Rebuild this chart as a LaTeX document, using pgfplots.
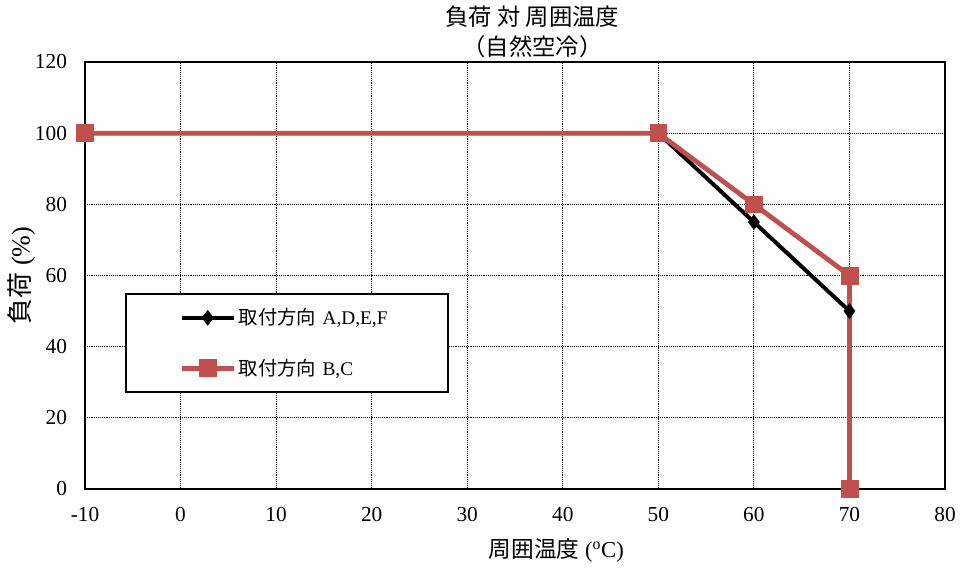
\documentclass[border=0pt]{standalone}
\usepackage{pgfplots}
\pgfplotsset{compat=1.18}
\usepackage{fontspec}
\setmainfont{Liberation Serif}
\newfontfamily\cjk{Noto Sans CJK JP}
\definecolor{exred}{HTML}{C0504D}
\begin{document}
\begin{tikzpicture}[x=1pt,y=1pt]
\path[use as bounding box] (-63.75pt,-60.75pt) rectangle (658.5pt,366.75pt);
\begin{axis}[
  at={(0,0)}, anchor=south west,
  scale only axis,
  width=645pt, height=320.25pt,
  xmin=-10, xmax=80, ymin=0, ymax=120,
  xtick={-10,0,...,80}, ytick={0,20,...,120},
  grid=major,
  grid style={black, densely dotted, line width=0.6pt},
  axis line style={black, line width=0.9pt},
  major tick length=0pt,
  ticklabel style={font=\fontsize{16}{18}\selectfont},
  /pgf/number format/assume math mode=true,
  xticklabel style={yshift=-10pt},
  yticklabel style={xshift=-10pt},
  xlabel={{\cjk 周囲温度} (\textsuperscript{o}C)},
  ylabel={{\cjk 負荷} (\%)},
  xlabel style={font=\fontsize{17}{19}\selectfont, xshift=31pt, yshift=-6pt},
  ylabel style={font=\fontsize{19.5}{21}\selectfont, yshift=-7pt},
  title={{\cjk 負荷 対 周囲温度}\\{\cjk （自然空冷）}},
  title style={font=\cjk\fontsize{17.5}{22.5}\selectfont, align=center, xshift=13pt, yshift=-6pt},
  legend cell align=left,
  legend style={at={(0.0465,0.459)}, anchor=north west,
    draw=black, line width=1.5pt, inner xsep=40pt, inner ysep=9pt,
    row sep=20pt, font=\fontsize{14.5}{16}\selectfont,
    nodes={text width=115pt, align=left}},
  legend image code/.code={\draw[mark repeat=2,mark phase=2] plot coordinates {(0pt,0pt) (19.5pt,0pt) (39pt,0pt)};},
]
\addplot[black, line width=3pt, mark=diamond*, mark size=5.5pt, mark options={line width=0.5pt}]
  coordinates {(-10,100) (50,100) (60,75) (70,50)};
\addlegendentry{{\cjk 取付方向} A,D,E,F}
\addplot[exred, line width=3.6pt, mark=square*, mark size=6.3pt, mark options={line width=0.5pt}]
  coordinates {(-10,100) (50,100) (60,80) (70,60) (70,0)};
\addlegendentry{{\cjk 取付方向} B,C}
\end{axis}
\end{tikzpicture}
\end{document}
